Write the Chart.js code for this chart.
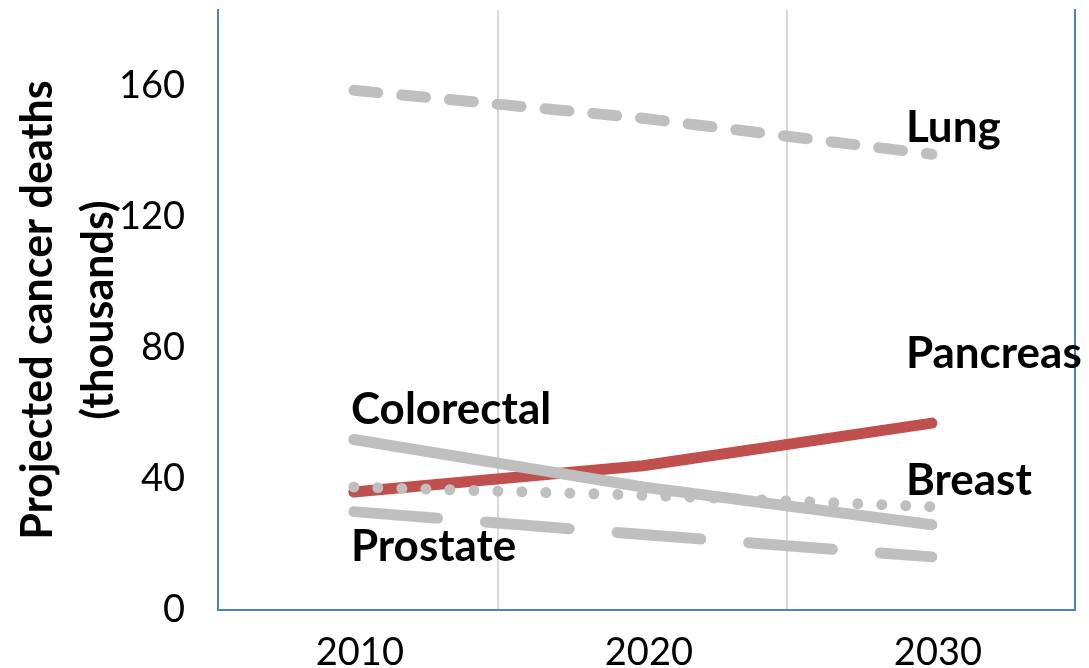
<!DOCTYPE html>
<html>
<head>
<meta charset="utf-8">
<script src="https://cdn.jsdelivr.net/npm/chart.js@4/dist/chart.umd.min.js"></script>
<style>
  html, body { margin: 0; padding: 0; background: #fff; }
  #wrap { width: 1089px; height: 668px; position: relative; }
</style>
</head>
<body>
<div id="wrap"><canvas id="chart"></canvas></div>
<script>
// Años y valores (miles de muertes proyectadas)
const YEARS = [2010, 2020, 2030];
const LUNG = [158.5, 150, 139];
const PANCREAS = [36, 44, 57];
const COLORECTAL = [52, 37.5, 26];
const BREAST = [37.5, 35, 31.5];
const PROSTATE = [30, 23, 16.2];

const Y_TICKS = [0, 40, 80, 120, 160];
const X_LABELS = [2010, 2020, 2030];
const X_GRID = [2015, 2025];

// Etiquetas de serie, ubicadas en coordenadas de datos
const LABEL_TEXT = ['Lung', 'Pancreas', 'Colorectal', 'Breast', 'Prostate'];
const LABEL_X = [2029.1, 2029.1, 2009.9, 2029.1, 2009.9];
const LABEL_Y = [147, 78, 61, 39.4, 19.2];

const GRAY = '#bfbfbf';
const RED = '#c0504d';
const BLUE = '#4f81bd';
const FONT = 'Lato, "Open Sans", sans-serif';

function series(values, color, dash) {
  return {
    data: YEARS.map((x, i) => ({ x, y: values[i] })),
    borderColor: color,
    borderWidth: 11,
    borderDash: dash,
    borderCapStyle: 'round',
    borderJoinStyle: 'round',
    pointRadius: 0,
    tension: 0,
    fill: false
  };
}

const seriesLabels = {
  id: 'seriesLabels',
  afterDatasetsDraw(chart) {
    const { ctx, scales: { x, y } } = chart;
    ctx.save();
    ctx.font = 'bold 44px ' + FONT;
    ctx.fillStyle = '#000';
    ctx.textAlign = 'left';
    ctx.textBaseline = 'middle';
    LABEL_TEXT.forEach((t, i) => {
      ctx.fillText(t, x.getPixelForValue(LABEL_X[i]), y.getPixelForValue(LABEL_Y[i]));
    });
    ctx.restore();
  }
};

// Sin relleno extra: el área del gráfico se ajusta a la del original
function noPad(s) {
  s.paddingTop = 0; s.paddingBottom = 0; s.paddingLeft = 0; s.paddingRight = 0;
}

new Chart(document.getElementById('chart'), {
  type: 'line',
  data: {
    datasets: [
      series(LUNG, GRAY, [24, 24]),
      series(COLORECTAL, GRAY, []),
      series(BREAST, GRAY, [0.01, 24]),
      series(PROSTATE, GRAY, [84, 48]),
      series(PANCREAS, RED, [])
    ]
  },
  options: {
    responsive: true,
    maintainAspectRatio: false,
    animation: false,
    layout: { padding: { top: 10, left: 0, right: 0, bottom: 0 } },
    plugins: { legend: { display: false }, tooltip: { enabled: false } },
    scales: {
      x: {
        type: 'linear',
        min: 2005.3,
        max: 2034.95,
        afterBuildTicks: s => { s.ticks = [2010, 2015, 2020, 2025, 2030].map(v => ({ value: v })); },
        afterFit: s => { s.height = 58; noPad(s); },
        grid: {
          color: c => X_GRID.includes(c.tick && c.tick.value) ? '#d9d9d9' : 'rgba(0,0,0,0)',
          lineWidth: 2,
          drawTicks: false
        },
        border: { color: BLUE, width: 2 },
        ticks: {
          color: '#000',
          font: { family: FONT, size: 38 },
          padding: 20,
          labelOffset: 6,
          maxRotation: 0,
          autoSkip: false,
          callback: v => X_LABELS.includes(v) ? String(v) : ''
        }
      },
      y: {
        min: 0,
        max: 183,
        afterBuildTicks: s => { s.ticks = Y_TICKS.map(v => ({ value: v })); },
        afterFit: s => { s.width = 218; noPad(s); },
        grid: { display: false, drawTicks: false },
        border: { color: BLUE, width: 2 },
        ticks: { color: '#000', font: { family: FONT, size: 38 }, padding: 33 },
        title: {
          display: true,
          text: ['Projected cancer deaths', '(thousands)'],
          color: '#000',
          font: { family: FONT, size: 43, weight: 'bold', lineHeight: 1.42 },
          padding: { top: 8, bottom: 0 }
        }
      },
      y2: {
        position: 'right',
        min: 0,
        max: 183,
        afterFit: s => { s.width = 14; noPad(s); },
        grid: { display: false, drawTicks: false },
        border: { color: BLUE, width: 2 },
        ticks: { display: false }
      }
    }
  },
  plugins: [seriesLabels]
});
</script>
</body>
</html>
